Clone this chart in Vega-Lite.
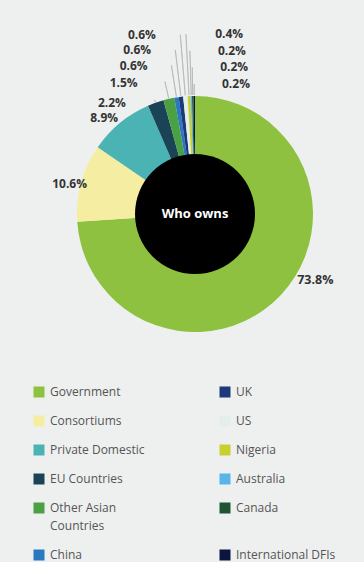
{
  "$schema": "https://vega.github.io/schema/vega-lite/v6.json",
  "width": 338,
  "height": 428,
  "padding": {"left": 26, "top": 0, "right": 0, "bottom": 134},
  "autosize": {"type": "none"},
  "background": "#eef0ef",
  "config": {"view": {"stroke": null}},
  "data": {
    "values": [
      {"owner": "Government", "share": 0.738, "order": 1},
      {"owner": "Consortiums", "share": 0.106, "order": 2},
      {"owner": "Private Domestic", "share": 0.089, "order": 3},
      {"owner": "EU Countries", "share": 0.022, "order": 4},
      {"owner": "Other Asian Countries", "share": 0.015, "order": 5},
      {"owner": "China", "share": 0.006, "order": 6},
      {"owner": "UK", "share": 0.006, "order": 7},
      {"owner": "US", "share": 0.006, "order": 8},
      {"owner": "Nigeria", "share": 0.004, "order": 9},
      {"owner": "Australia", "share": 0.002, "order": 10},
      {"owner": "Canada", "share": 0.002, "order": 11},
      {"owner": "International DFIs", "share": 0.002, "order": 12}
    ]
  },
  "resolve": {"scale": {"radius": "independent"}},
  "layer": [
    {
      "mark": {"type": "arc", "radius": 118},
      "encoding": {
        "theta": {"field": "share", "type": "quantitative", "stack": true},
        "order": {"field": "order", "type": "quantitative"},
        "color": {
          "field": "owner",
          "type": "nominal",
          "scale": {
            "domain": ["Government", "Consortiums", "Private Domestic", "EU Countries", "Other Asian Countries", "China", "UK", "US", "Nigeria", "Australia", "Canada", "International DFIs"],
            "range": ["#8dc13f", "#f5eda2", "#4bb3b3", "#1a4456", "#4aa043", "#2a78c2", "#1c3979", "#e4efea", "#c8d030", "#5ab4e8", "#1f5532", "#0c1540"]
          },
          "legend": {
            "title": null,
            "orient": "none",
            "legendX": 7,
            "legendY": 386,
            "columns": 2,
            "symbolType": "square",
            "symbolSize": 121,
            "symbolStrokeWidth": 0,
            "labelFont": "Open Sans",
            "labelFontSize": 12,
            "labelColor": "#555555",
            "labelOffset": 5,
            "labelLimit": 0,
            "rowPadding": 17,
            "columnPadding": 74,
            "labelExpr": "datum.label == 'Other Asian Countries' ? ['Other Asian', 'Countries'] : datum.label",
            "encode": {"labels": {"update": {"lineHeight": {"value": 18}}}}
          }
        }
      }
    },
    {
      "data": {"values": [{"title": "Who owns"}]},
      "layer": [
        {"mark": {"type": "arc", "radius": 60, "color": "#000000"}, "encoding": {}},
        {
          "mark": {"type": "text", "font": "Open Sans", "fontSize": 13, "fontWeight": "bold", "color": "#ffffff", "align": "center", "baseline": "middle"},
          "encoding": {"text": {"field": "title"}}
        }
      ]
    },
    {
      "mark": {"type": "text", "radius": 140, "align": "left", "baseline": "middle", "dy": -30, "font": "Open Sans", "fontSize": 12.5, "fontWeight": "bold", "color": "#333333"},
      "encoding": {
        "theta": {"field": "share", "type": "quantitative", "stack": true},
        "order": {"field": "order", "type": "quantitative"},
        "detail": {"field": "owner"},
        "text": {"condition": {"test": "datum.order == 1", "field": "share", "type": "quantitative", "format": ".1%"}, "value": ""}
      }
    },
    {
      "mark": {"type": "text", "radius": 112, "align": "right", "baseline": "middle", "font": "Open Sans", "fontSize": 12, "fontWeight": "bold", "color": "#333333"},
      "encoding": {
        "theta": {"field": "share", "type": "quantitative", "stack": true},
        "order": {"field": "order", "type": "quantitative"},
        "detail": {"field": "owner"},
        "text": {"condition": {"test": "datum.order == 2", "field": "share", "type": "quantitative", "format": ".1%"}, "value": ""}
      }
    },
    {
      "mark": {"type": "text", "radius": 124, "align": "center", "baseline": "middle", "dx": -12, "font": "Open Sans", "fontSize": 12, "fontWeight": "bold", "color": "#333333"},
      "encoding": {
        "theta": {"field": "share", "type": "quantitative", "stack": true},
        "order": {"field": "order", "type": "quantitative"},
        "detail": {"field": "owner"},
        "text": {"condition": {"test": "datum.order == 3", "field": "share", "type": "quantitative", "format": ".1%"}, "value": ""}
      }
    },
    {
      "transform": [
        {"stack": "share", "groupby": [], "sort": [{"field": "order", "order": "ascending"}], "as": ["s0", "s1"]},
        {"filter": "datum.order >= 4 && datum.order <= 8"}
      ],
      "layer": [
        {
          "mark": {"type": "arc", "radius2": 119, "padAngle": 0.3, "fillOpacity": 0, "stroke": "#b3b3b3", "strokeWidth": 0.7},
          "encoding": {
            "theta": {"field": "s0", "type": "quantitative", "stack": null},
            "theta2": {"field": "s1"},
            "radius": {"field": "order", "type": "quantitative", "scale": {"type": "linear", "domain": [4, 8], "range": [121, 180], "zero": false, "nice": false}}
          }
        },
        {
          "mark": {"type": "text", "align": "right", "baseline": "middle", "dx": -21, "font": "Open Sans", "fontSize": 12, "fontWeight": "bold", "color": "#333333"},
          "encoding": {
            "theta": {"field": "s0", "type": "quantitative", "stack": null},
            "radius": {"field": "order", "type": "quantitative", "scale": {"type": "linear", "domain": [4, 8], "range": [121, 180], "zero": false, "nice": false}},
            "text": {"field": "share", "type": "quantitative", "format": ".1%"}
          }
        }
      ]
    },
    {
      "transform": [
        {"stack": "share", "groupby": [], "sort": [{"field": "order", "order": "ascending"}], "as": ["s0", "s1"]},
        {"filter": "datum.order >= 9"}
      ],
      "layer": [
        {
          "mark": {"type": "arc", "radius2": 119, "padAngle": 0.3, "fillOpacity": 0, "stroke": "#b3b3b3", "strokeWidth": 0.7},
          "encoding": {
            "theta": {"field": "s0", "type": "quantitative", "stack": null},
            "theta2": {"field": "s1"},
            "radius": {"field": "order", "type": "quantitative", "scale": {"type": "linear", "domain": [9, 12], "range": [180, 130], "zero": false, "nice": false}}
          }
        },
        {
          "mark": {"type": "text", "align": "left", "baseline": "middle", "dx": 27, "font": "Open Sans", "fontSize": 12, "fontWeight": "bold", "color": "#333333"},
          "encoding": {
            "theta": {"field": "s1", "type": "quantitative", "stack": null},
            "radius": {"field": "order", "type": "quantitative", "scale": {"type": "linear", "domain": [9, 12], "range": [180, 130], "zero": false, "nice": false}},
            "text": {"field": "share", "type": "quantitative", "format": ".1%"}
          }
        }
      ]
    }
  ]
}
